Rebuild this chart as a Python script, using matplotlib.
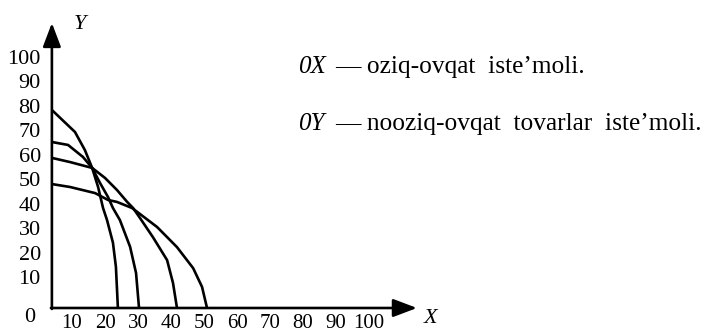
import matplotlib
matplotlib.use("Agg")
import matplotlib.pyplot as plt

plt.rcParams['font.family'] = ['Liberation Serif', 'DejaVu Serif']

# ---- data ----
x_ticks = [10, 20, 30, 40, 50, 60, 70, 80, 90, 100]
y_ticks = [10, 20, 30, 40, 50, 60, 70, 80, 90, 100]
x_tick_labels = [str(v) for v in x_ticks]
y_tick_labels = [str(v) for v in y_ticks]

curve_a_x = [3.9, 10.9, 13.9, 16.1, 17.9, 19.4, 20.6, 22.4, 23.3, 23.9]
curve_a_y = [78.3, 69.3, 61.9, 54.6, 46.8, 38.2, 33.3, 24.0, 14.1, -2.7]
curve_b_x = [3.9, 8.8, 13.3, 16.1, 18.5, 20.9, 22.4, 24.5, 27.6, 29.4, 30.3]
curve_b_y = [65.2, 64.0, 59.1, 54.6, 48.4, 42.7, 38.2, 33.3, 22.3, 11.6, -2.7]
curve_c_x = [3.9, 9.4, 16.1, 20.0, 23.6, 26.7, 28.5, 30.6, 34.5, 38.8, 40.6, 41.8]
curve_c_y = [58.7, 57.0, 54.6, 50.5, 45.6, 40.7, 38.2, 34.1, 26.3, 16.9, 7.5, -2.7]
curve_d_x = [3.9, 9.4, 17.0, 20.9, 23.6, 28.2, 35.8, 41.8, 46.7, 49.4, 50.9]
curve_d_y = [48.0, 46.8, 44.3, 41.5, 40.7, 38.2, 30.4, 22.2, 13.6, 5.9, -2.7]

note_keys = ["0X", "0Y"]
note_texts = ["— oziq-ovqat  iste’moli.", "— nooziq-ovqat  tovarlar  iste’moli."]

# axis origin as drawn in the figure (data units)
origin_x = 3.9
origin_y = -2.7

fig = plt.figure(figsize=(7.13, 3.34), dpi=100)
ax = fig.add_axes([0, 0, 1, 1])
ax.set_xlim(-11.82, 204.2)
ax.set_ylim(-13.34, 123.3)

for s in ax.spines.values():
    s.set_visible(False)
ax.spines['bottom'].set_position(('data', origin_y))
ax.spines['left'].set_position(('data', origin_x))

ax.set_xticks(x_ticks)
ax.set_xticklabels(x_tick_labels, fontsize=15)
ax.set_yticks(y_ticks)
ax.set_yticklabels(y_tick_labels, fontsize=16)
ax.tick_params(axis='x', length=0, pad=4)
ax.tick_params(axis='y', length=0, pad=8)

lw = 1.9
for cx, cy in [(curve_a_x, curve_a_y), (curve_b_x, curve_b_y),
               (curve_c_x, curve_c_y), (curve_d_x, curve_d_y)]:
    ax.plot(cx, cy, color='black', lw=lw, solid_joinstyle='round',
            solid_capstyle='butt')

arrow_style = '-|>,head_length=1.45,head_width=0.55'
ax.annotate('', xy=(114.5, origin_y), xytext=(origin_x - 0.3, origin_y),
            arrowprops=dict(arrowstyle=arrow_style, lw=lw, color='black',
                            shrinkA=0, shrinkB=0, mutation_scale=10))
ax.annotate('', xy=(origin_x, 113.9), xytext=(origin_x, origin_y - 0.4),
            arrowprops=dict(arrowstyle=arrow_style, lw=lw, color='black',
                            shrinkA=0, shrinkB=0, mutation_scale=10))

ax.text(-2.7, -6.4, "0", fontsize=16, ha='center', va='center')
ax.text(12.4, 113.1, "Y", fontsize=16, style='italic', ha='center', va='center')
ax.text(118.5, -7.2, "X", fontsize=16, style='italic', ha='center', va='center')

for key, txt, yb in zip(note_keys, note_texts, [93.5, 70.1]):
    ax.text(78.5, yb, key, fontsize=18, style='italic', ha='left', va='baseline')
    ax.text(89.6, yb, txt, fontsize=18.3, ha='left', va='baseline')

fig.savefig("out.png", dpi=100)
